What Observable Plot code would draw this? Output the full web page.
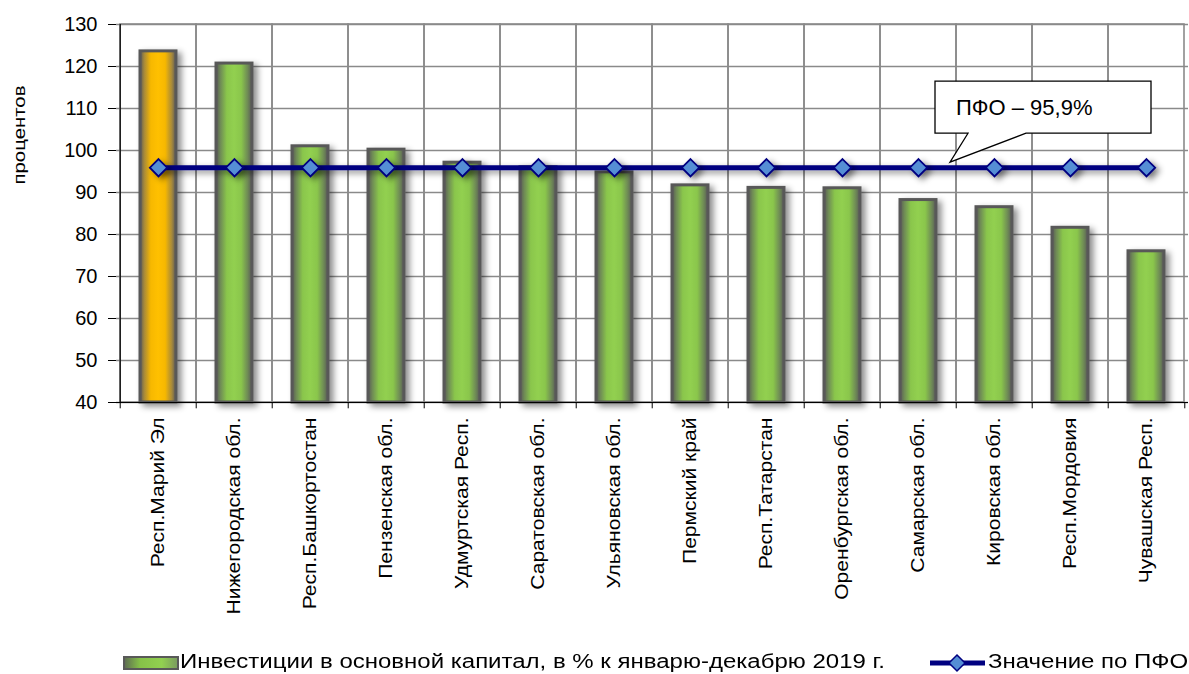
<!DOCTYPE html>
<html><head><meta charset="utf-8">
<script src="https://cdn.jsdelivr.net/npm/d3@7"></script>
<script src="https://cdn.jsdelivr.net/npm/@observablehq/plot@0.6"></script>
<style>
html,body{margin:0;padding:0;background:#fff;}
body{font-family:"Liberation Sans",Arial,sans-serif;width:1189px;height:674px;overflow:hidden;position:relative;}
#legend{position:absolute;left:0;top:640px;width:1189px;height:34px;}
.lg{position:absolute;top:10px;font-size:20px;color:#000;white-space:nowrap;line-height:22px;transform:scaleX(1.2);transform-origin:0 50%;}
</style>
</head><body>
<div id="chart"></div>
<div id="legend"></div>
<script>
const regions = ["Респ.Марий Эл","Нижегородская обл.","Респ.Башкортостан","Пензенская обл.","Удмуртская Респ.","Саратовская обл.","Ульяновская обл.","Пермский край","Респ.Татарстан","Оренбургская обл.","Самарская обл.","Кировская обл.","Респ.Мордовия","Чувашская Респ."];
const values = [123.6, 120.7, 101.0, 100.2, 97.1, 96.0, 94.8, 91.7, 91.1, 91.0, 88.2, 86.5, 81.6, 76.0];
const pfoValue = 95.9;
const highlighted = ["Респ.Марий Эл"];
const yTicks = [40, 50, 60, 70, 80, 90, 100, 110, 120, 130];
const yLabel = "процентов";
const barLegend = "Инвестиции в основной капитал, в % к январю-декабрю 2019 г.";
const lineLegend = "Значение по ПФО";
const calloutText = "ПФО – 95,9%";
const calloutRegion = "Самарская обл.";

const data = regions.map((r, i) => ({region: r, value: values[i], pfo: pfoValue}));
const W = 1189, H = 640, mL = 116, mR = 1, mT = 24, mB = 238;
const step = (W - mL - mR) / regions.length;
const yMin = yTicks[0], yMax = yTicks[yTicks.length - 1];

const plot = Plot.plot({
  width: W, height: H,
  marginLeft: mL, marginRight: mR, marginTop: mT, marginBottom: mB,
  style: {fontFamily: '"Liberation Sans", Arial, sans-serif', background: "#fff", overflow: "visible", color: "#000"},
  x: {domain: regions, padding: 0, label: null},
  y: {domain: [yMin, yMax], ticks: yTicks, label: null},
  marks: [
    Plot.gridY(yTicks, {stroke: "#8a8a8a", strokeOpacity: 1, strokeWidth: 1.6}),
    Plot.barY(data, {x: "region", y1: yMin, y2: yMax, fill: "none", stroke: "#8a8a8a", strokeWidth: 1.6}),
    Plot.barY(data.filter(d => !highlighted.includes(d.region)), {x: "region", y1: yMin, y2: "value", fill: "url(#gGreen)", stroke: "#595959", strokeWidth: 3, insetLeft: 20, insetRight: 20}),
    Plot.barY(data.filter(d => highlighted.includes(d.region)), {x: "region", y1: yMin, y2: "value", fill: "url(#gOrange)", stroke: "#595959", strokeWidth: 3, insetLeft: 20, insetRight: 20}),
    Plot.ruleX(regions, {x: d => d, dx: -step / 2, y1: yMin, y2: yMin - 1.5, stroke: "#000", strokeWidth: 1}),
    Plot.ruleX(regions.slice(-1), {x: d => d, dx: step / 2, y1: yMin, y2: yMin - 1.5, stroke: "#000", strokeWidth: 1}),
    Plot.axisY({ticks: yTicks, tickSize: 8, tickPadding: 11, fontSize: 20, stroke: "#000", label: null}),
    Plot.ruleY([yMin], {stroke: "#000", strokeWidth: 1.2}),
    Plot.ruleX([regions[0]], {x: d => d, dx: -step / 2, stroke: "#000", strokeWidth: 1.2}),
    Plot.axisX({tickRotate: -90, tickSize: 0, tickPadding: 15, fontSize: 18, label: null}),
    Plot.line(data, {x: "region", y: "pfo", stroke: "#000080", strokeWidth: 5}),
    Plot.dot(data, {x: "region", y: "pfo", symbol: "diamond2", r: 7.8, fill: "#558ed5", stroke: "#000080", strokeWidth: 1.8})
  ]
});

document.getElementById("chart").appendChild(plot);
const svg = d3.select(plot);
const defs = svg.insert("defs", ":first-child");
function grad(id, edge, soft, mid, center) {
  const g = defs.append("linearGradient").attr("id", id).attr("x1", "0").attr("x2", "1").attr("y1", "0").attr("y2", "0");
  [[0, edge], [0.12, soft], [0.3, mid], [0.5, center], [0.7, mid], [0.88, soft], [1, edge]]
    .forEach(([o, c]) => g.append("stop").attr("offset", o).attr("stop-color", c));
}
grad("gGreen", "#595959", "#6e8a55", "#8ac64c", "#92d050");
grad("gOrange", "#595959", "#a88a3a", "#f7b800", "#ffc000");
const f = defs.append("filter").attr("id", "shadow").attr("filterUnits", "userSpaceOnUse")
  .attr("x", 0).attr("y", 0).attr("width", W).attr("height", H);
f.append("feDropShadow").attr("dx", 4).attr("dy", 3).attr("stdDeviation", 3).attr("flood-color", "#000").attr("flood-opacity", 0.45);

svg.selectAll("g[aria-label='bar']").filter((d, i) => i >= 1).attr("filter", "url(#shadow)");
svg.selectAll("g[aria-label='line'], g[aria-label='dot']").attr("filter", "url(#shadow)");

// stretch the rotated x labels along their direction, as in the reference
svg.selectAll("g[aria-label='x-axis tick label'] text").each(function() {
  const t = this.getAttribute("transform") || "";
  this.setAttribute("transform", t + " scale(1.17,1)");
});

// y label
svg.append("text").attr("transform", `translate(21,${mT + 111}) rotate(-90) scale(1.2,1)`).attr("text-anchor", "middle")
  .attr("font-size", 17).attr("dominant-baseline", "middle").attr("fill", "#000").text(yLabel);

// callout
const xs = plot.scale("x"), ys = plot.scale("y");
const tipX = xs.apply(calloutRegion) + xs.bandwidth / 2 + 32;
const tipY = ys.apply(pfoValue) - 5;
const bl = tipX - 15, br = tipX + 201, bt = tipY - 81, bb = tipY - 29;
const p = d3.path();
p.moveTo(bl, bt); p.lineTo(br, bt); p.lineTo(br, bb); p.lineTo(tipX + 76, bb); p.lineTo(tipX, tipY); p.lineTo(tipX + 18, bb); p.lineTo(bl, bb); p.closePath();
svg.append("path").attr("d", p.toString()).attr("fill", "#fff").attr("stroke", "#000").attr("stroke-width", 1.3);
svg.append("text").attr("x", bl + 21).attr("y", bt + 34).attr("text-anchor", "start").attr("font-size", 22).attr("fill", "#000").text(calloutText);

// legend
const lg = document.getElementById("legend");
lg.innerHTML = `
<svg width="1189" height="34" style="position:absolute;left:0;top:0">
  <defs><linearGradient id="lgG2" x1="0" x2="1" y1="0" y2="0"><stop offset="0" stop-color="#5d6a52"/><stop offset="0.3" stop-color="#86c248"/><stop offset="0.7" stop-color="#92d050"/><stop offset="1" stop-color="#7a9a60"/></linearGradient></defs>
  <rect x="124" y="17" width="54" height="12" fill="url(#lgG2)" stroke="#595959" stroke-width="2"/>
  <line x1="930" y1="23" x2="985" y2="23" stroke="#000080" stroke-width="5"/>
  <path d="M957,15 L965,23 L957,31 L949,23 Z" fill="#558ed5" stroke="#000080" stroke-width="1.5"/>
</svg>
<div class="lg" style="left:180px;">${barLegend}</div>
<div class="lg" style="left:988px;">${lineLegend}</div>`;
</script>
</body></html>
